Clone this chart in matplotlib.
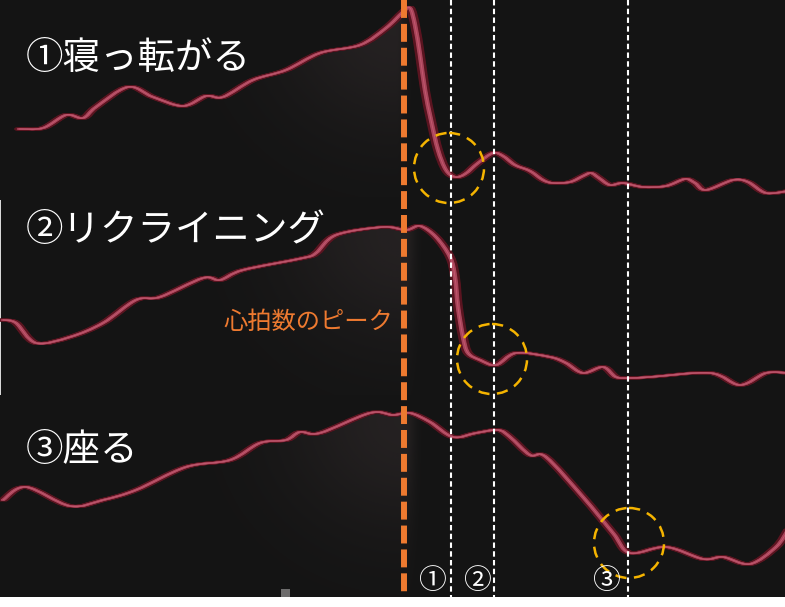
import numpy as np
import matplotlib
matplotlib.use("Agg")
import matplotlib.pyplot as plt
from matplotlib.patches import Rectangle, Circle, Polygon, PathPatch
from matplotlib.path import Path

plt.rcParams['font.family'] = ['Noto Sans CJK JP', 'DejaVu Sans']

# ---- data (x = time axis, y = screen units, inverted) ----
c1_x = [16, 40, 63, 80, 93, 125, 150, 180, 203, 220, 250, 283, 317, 357, 383, 400, 407,
        412, 417, 422, 428, 435, 443, 452, 462, 475, 490, 500, 512, 527, 540, 550, 567,
        580, 588, 596, 607, 620, 640, 663, 682, 692, 703, 730, 745, 763, 785]
c1_y = [129, 128, 115, 118, 107, 87, 97, 106, 96, 97, 80, 70, 53, 45, 28, 12, 8,
        25, 55, 90, 120, 150, 170, 177, 174, 163, 153, 156, 165, 171, 180, 183, 182,
        176, 173, 178, 185, 183, 187, 186, 179, 183, 190, 180, 182, 193, 191]

c2_x = [0, 13, 33, 67, 100, 133, 157, 200, 217, 240, 300, 313, 333, 380, 403, 417, 433,
        447, 452, 455, 460, 465, 477, 493, 513, 547, 563, 580, 600, 613, 627, 647, 707,
        737, 763, 785]
c2_y = [320, 323, 343, 337, 323, 300, 297, 278, 280, 270, 258, 253, 235, 227, 230, 226, 237,
        257, 277, 307, 337, 353, 360, 365, 353, 357, 363, 373, 367, 377, 378, 377, 373,
        385, 373, 373]

c3_x = [0, 23, 67, 100, 133, 183, 227, 257, 283, 297, 317, 367, 390, 407, 427, 450, 473,
        495, 507, 527, 543, 580, 610, 627, 663, 700, 720, 747, 773, 785]
c3_y = [500, 487, 506, 500, 490, 467, 460, 443, 440, 432, 433, 413, 415, 413, 422, 437, 433,
        430, 437, 455, 457, 497, 533, 553, 547, 559, 557, 564, 547, 530]

titles = ['①寝っ転がる', '②リクライニング', '③座る']
peak_label = '心拍数のピーク'
event_labels = ['①', '②', '③']
peak_time = 404
event_times = [451, 494, 628]
label_times = [432, 477, 606]
circle_centers = [(449, 168), (492, 359), (629, 543)]
circle_radius = 35

panels = [(0, 197), (200, 395), (395, 597)]
title_y = [58, 230, 450]
peak_pts = [(396, 25), (405, 232), (405, 420)]

BG = '#141414'

fig = plt.figure(figsize=(7.85, 6.07), dpi=100)
fig.patch.set_facecolor('white')
ax = fig.add_axes([0, 0, 1, 1])
ax.set_xlim(0, 785)
ax.set_ylim(607, 0)
ax.axis('off')


def smooth_path(x, y):
    """Catmull-Rom through the data points, drawn as cubic Bezier segments."""
    p = np.column_stack([x, y]).astype(float)
    ext = np.vstack([p[0], p, p[-1]])
    verts = [p[0]]
    codes = [Path.MOVETO]
    for i in range(len(p) - 1):
        p0, p1, p2, p3 = ext[i], ext[i + 1], ext[i + 2], ext[i + 3]
        verts += [p1 + (p2 - p0) / 6.0, p2 - (p3 - p1) / 6.0, p2]
        codes += [Path.CURVE4] * 3
    return Path(np.array(verts), codes)


# dark background
ax.add_patch(Rectangle((0, 0), 785, 597, facecolor=BG, edgecolor='none', zorder=0))
ax.add_patch(Rectangle((0, 200), 1.0, 195, facecolor='#d8d8d8', edgecolor='none', zorder=1))
ax.add_patch(Rectangle((281, 589), 9, 8, facecolor='#6e6e6e', edgecolor='none', zorder=1))

# soft fill under curves near the peak
curves = [(c1_x, c1_y), (c2_x, c2_y), (c3_x, c3_y)]
for (cx, cy), (top, bot), (px, py) in zip(curves, panels, peak_pts):
    cx = np.asarray(cx, float); cy = np.asarray(cy, float)
    poly = np.column_stack([np.r_[cx, cx[-1], cx[0]], np.r_[cy, bot, bot]])
    patch = Polygon(poly, closed=True, facecolor='none', edgecolor='none')
    ax.add_patch(patch)
    gx, gy = np.meshgrid(np.linspace(0, 785, 400), np.linspace(top, bot, 120))
    dxn = np.where(gx <= px, (gx - px) / 120.0, (gx - px) / 10.0)
    dyn = (gy - py) / 110.0
    a = 0.55 * np.exp(-(dxn ** 2) - (dyn ** 2))
    img = np.zeros(gx.shape + (4,))
    img[..., 0] = 0.2; img[..., 1] = 0.175; img[..., 2] = 0.18
    img[..., 3] = a
    im = ax.imshow(img, extent=(0, 785, bot, top), origin='upper', aspect='auto',
                   interpolation='bilinear', zorder=1)
    im.set_clip_path(patch)

# heart-rate curves: dark halo with horizontal smear, pink core
for cx, cy in curves:
    cx = np.asarray(cx, float); cy = np.asarray(cy, float)
    for d in np.arange(-0.5, 6.6, 0.5):
        ax.add_patch(PathPatch(smooth_path(cx + d, cy), fill=False, edgecolor='#5a1420',
                               lw=2.0, joinstyle='round', capstyle='round', zorder=3))
    for d in np.arange(1.5, 4.6, 0.5):
        ax.add_patch(PathPatch(smooth_path(cx + d, cy), fill=False, edgecolor='#a8445a',
                               lw=1.1, joinstyle='round', capstyle='round', zorder=4))
    ax.add_patch(PathPatch(smooth_path(cx + 3, cy), fill=False, edgecolor='#c45a70',
                           lw=0.6, joinstyle='round', zorder=5))

# vertical markers
ax.plot([peak_time, peak_time], [0, 597], color='#ee7a30', lw=4.3,
        linestyle=(0, (3.0, 1.0)), dash_capstyle='butt', zorder=6)
for t in event_times:
    ax.plot([t, t], [0, 597], color='white', lw=1.5, linestyle=(0, (2.6, 1.6)),
            dash_capstyle='butt', zorder=6)

# dashed yellow circles
for c in circle_centers:
    ax.add_patch(Circle(c, circle_radius, fill=False, edgecolor='#f5b400', lw=1.8,
                        linestyle=(0, (4.5, 3.0)), zorder=7))

# text
for t, y in zip(titles, title_y):
    ax.text(26, y, t, color='white', fontsize=27, va='center', ha='left', zorder=8)
ax.text(393, 322, peak_label, color='#ee7a30', fontsize=17.5, va='center', ha='right', zorder=8)
for t, x in zip(event_labels, label_times):
    ax.text(x, 581, t, color='white', fontsize=20, va='center', ha='center', zorder=8)

fig.savefig('out.png', dpi=100, facecolor='white')
